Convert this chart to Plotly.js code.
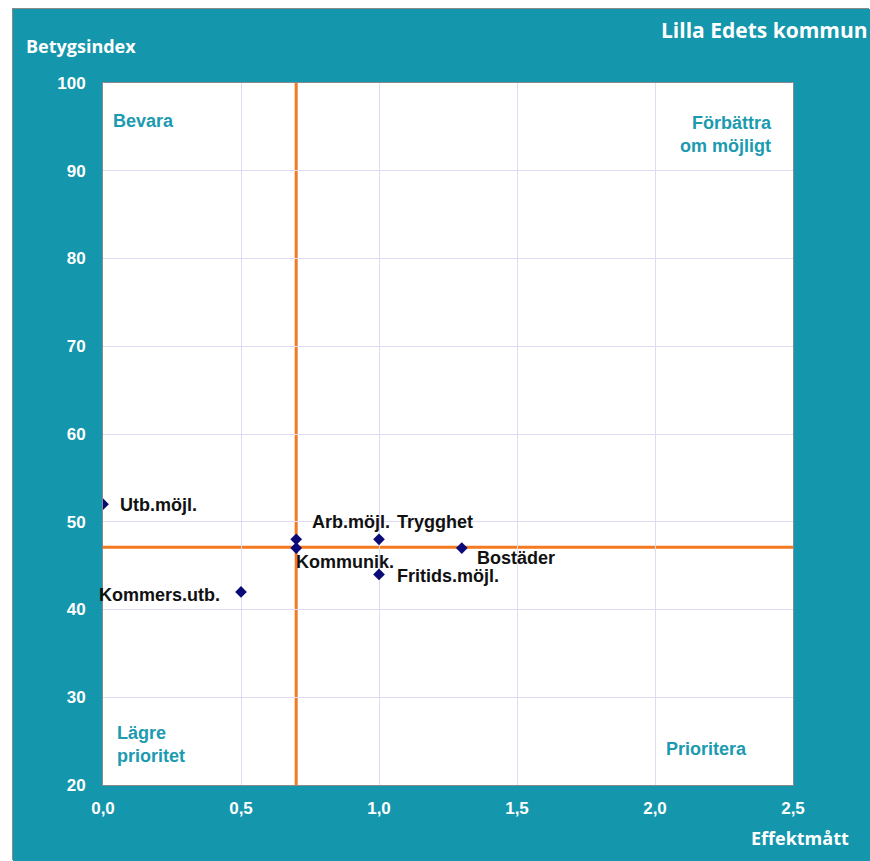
<!DOCTYPE html>
<html><head><meta charset="utf-8">
<script src="https://cdn.plot.ly/plotly-3.0.1.min.js"></script>
<style>
html,body{margin:0;padding:0;background:#fff;}
#chart{position:absolute;left:13px;top:9px;width:857px;height:852px;box-shadow:-1px -1px 0 #8a8a8a;}
</style></head>
<body><div id="chart"></div>
<script>
// Data
const names = ["Utb.möjl.", "Kommers.utb.", "Arb.möjl.", "Kommunik.", "Trygghet", "Fritids.möjl.", "Bostäder"];
const effekt = [0.0, 0.5, 0.7, 0.7, 1.0, 1.0, 1.3];
const betyg = [52, 42, 48, 47, 48, 44, 47];
const vLine = 0.7;
const hLine = 47.1;
const xTicks = [0, 0.5, 1.0, 1.5, 2.0, 2.5];
const xTickText = ["0,0", "0,5", "1,0", "1,5", "2,0", "2,5"];
const yTicks = [20, 30, 40, 50, 60, 70, 80, 90, 100];

// Label placement (style only)
const lblAnchor = ["left", "right", "left", "left", "left", "left", "left"];
const lblDx = [15, -19, 14, -2, 16, 16, 13];
const lblDy = [-1, -3, 17, -14, 17, -2, -10];

const teal = "#1496ac";
const quadColor = "#1b9ab0";
const orange = "#f47a20";

const ann = names.map((n, i) => ({
  x: effekt[i], y: betyg[i], xref: "x", yref: "y", text: n, showarrow: false,
  xanchor: lblAnchor[i], yanchor: "middle", xshift: lblDx[i], yshift: lblDy[i],
  font: {family: "Liberation Sans, Arial", size: 18, color: "#111", weight: "bold"}
}));

const quadFont = {family: "Liberation Sans, Arial", size: 18, color: quadColor, weight: "bold"};
const whiteTitle = {family: "Open Sans", size: 18, color: "#fff", weight: "bold"};
ann.push(
  {xref: "paper", yref: "paper", x: 0.012, y: 0.946, text: "Bevara", showarrow: false, xanchor: "left", yanchor: "middle", font: quadFont},
  {xref: "paper", yref: "paper", x: 0.973, y: 0.926, text: "Förbättra<br>om möjligt", showarrow: false, xanchor: "right", yanchor: "middle", align: "right", font: quadFont},
  {xref: "paper", yref: "paper", x: 0.018, y: 0.0577, text: "Lägre<br>prioritet", showarrow: false, xanchor: "left", yanchor: "middle", align: "left", font: quadFont},
  {xref: "paper", yref: "paper", x: 0.874, y: 0.051, text: "Prioritera", showarrow: false, xanchor: "center", yanchor: "middle", font: quadFont},
  {xref: "paper", yref: "paper", x: -0.1145, y: 1.0527, text: "Betygsindex", showarrow: false, xanchor: "left", yanchor: "middle", font: whiteTitle},
  {xref: "paper", yref: "paper", x: 1.084, y: -0.0755, text: "Effektmått", showarrow: false, xanchor: "right", yanchor: "middle", font: whiteTitle},
  {xref: "paper", yref: "paper", x: 1.111, y: 1.0755, text: "Lilla Edets kommun", showarrow: false, xanchor: "right", yanchor: "middle", font: {family: "Open Sans", size: 21, color: "#fff", weight: "bold"}}
);

const trace = {
  x: effekt, y: betyg, text: names, type: "scatter", mode: "markers",
  marker: {symbol: "diamond", size: 9, color: "#0a0a78"},
  hoverinfo: "text"
};

const tickFont = {family: "Liberation Sans, Arial", size: 17, color: "#fff", weight: "bold"};
const layout = {
  width: 857, height: 852,
  paper_bgcolor: teal, plot_bgcolor: "#fff",
  margin: {l: 90, r: 77, t: 74, b: 76},
  showlegend: false,
  xaxis: {
    range: [0, 2.5], tickvals: xTicks, ticktext: xTickText,
    showgrid: true, gridcolor: "#dcdcf4", gridwidth: 1, zeroline: false,
    showline: true, linecolor: "#8a8a8a", linewidth: 1, mirror: true,
    ticks: "", ticklabelstandoff: 8, tickfont: tickFont, fixedrange: true
  },
  yaxis: {
    range: [20, 100], tickvals: yTicks,
    showgrid: true, gridcolor: "#dcdcf4", gridwidth: 1, zeroline: false,
    showline: true, linecolor: "#8a8a8a", linewidth: 1, mirror: true,
    ticks: "", ticklabelstandoff: 13, tickfont: tickFont, fixedrange: true
  },
  shapes: [
    {type: "line", layer: "below", xref: "x", yref: "paper", x0: vLine, x1: vLine, y0: 0, y1: 1, line: {color: orange, width: 3}},
    {type: "line", layer: "below", xref: "paper", yref: "y", x0: 0, x1: 1, y0: hLine, y1: hLine, line: {color: orange, width: 3}}
  ],
  annotations: ann
};

Plotly.newPlot("chart", [trace], layout, {displayModeBar: false, staticPlot: true});
</script></body></html>
